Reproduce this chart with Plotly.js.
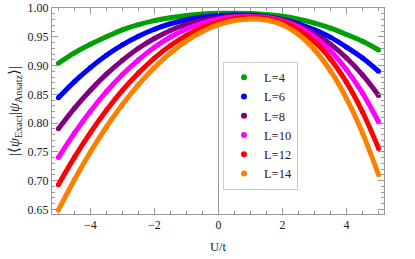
<!DOCTYPE html>
<html><head><meta charset="utf-8">
<script src="https://cdn.plot.ly/plotly-3.0.1.min.js"></script>
<style>html,body{margin:0;padding:0;background:#fff}#chart{width:415px;height:259px}</style>
</head><body><div id="chart"></div>
<script>
const U = [-5,-4.5,-4,-3.5,-3,-2.5,-2,-1.5,-1,-0.5,0,0.5,1,1.5,2,2.5,3,3.5,4,4.5,5];
const labels = ["L=4","L=6","L=8","L=10","L=12","L=14"];
const colors = ["#00a000","#0000ff","#800080","#ff00ff","#ff0000","#ff8000"];
const L4  = [0.904,0.922,0.937,0.950,0.962,0.971,0.978,0.983,0.987,0.9895,0.9907,0.991,0.9905,0.9888,0.9855,0.9805,0.9737,0.965,0.954,0.942,0.927];
const L6  = [0.844,0.872,0.8965,0.918,0.936,0.951,0.963,0.9726,0.9796,0.9843,0.987,0.988,0.9875,0.985,0.980,0.9726,0.962,0.949,0.932,0.913,0.890];
const L8  = [0.790,0.8256,0.857,0.885,0.909,0.930,0.947,0.961,0.9714,0.979,0.9836,0.9857,0.9858,0.984,0.9787,0.9695,0.9558,0.937,0.913,0.8836,0.848];
const L10 = [0.740,0.7825,0.8207,0.8546,0.8844,0.910,0.9318,0.9496,0.9636,0.9739,0.9807,0.9842,0.985,0.9834,0.9777,0.9668,0.9494,0.9251,0.8928,0.852,0.802];
const L12 = [0.693,0.7404,0.7834,0.8222,0.8567,0.887,0.913,0.9348,0.9525,0.9661,0.9756,0.9812,0.983,0.9816,0.9754,0.9625,0.9415,0.9112,0.8708,0.8193,0.756];
const L14 = [0.649,0.7016,0.7497,0.7932,0.8322,0.8667,0.8966,0.922,0.9429,0.9592,0.971,0.9783,0.981,0.9792,0.9708,0.954,0.9275,0.8906,0.8425,0.7825,0.710];
const series = [L4,L6,L8,L10,L12,L14];
const xTickVals = [-4,-2,0,2,4];
const yTickVals = [0.65,0.70,0.75,0.80,0.85,0.90,0.95,1.00];

const traces = [];
series.forEach((ys,i)=>{
  traces.push({x:U,y:ys,type:'scatter',mode:'lines+markers',name:labels[i],legendgroup:labels[i],
    showlegend:false,line:{color:colors[i],width:5,shape:'spline',smoothing:1},
    marker:{color:colors[i],size:5},hoverinfo:'skip'});
});
series.forEach((ys,i)=>{
  traces.push({x:[null],y:[null],type:'scatter',mode:'markers',name:labels[i],legendgroup:labels[i],
    marker:{color:colors[i],size:6}});
});

const serif = "'Liberation Serif', 'Times New Roman', serif";
const layout = {
  width:415,height:259,
  margin:{l:52,r:31,t:8,b:45},
  paper_bgcolor:'#fff',plot_bgcolor:'#fff',
  font:{family:serif,size:12,color:'#222'},
  showlegend:true,
  legend:{x:0.515,xanchor:'left',y:0.74,yanchor:'top',bgcolor:'#fff',bordercolor:'#ccc',borderwidth:1,
    font:{family:serif,size:12.5,color:'#222'},itemwidth:30,tracegroupgap:0},
  xaxis:{range:[-5.2,5.17],tickvals:xTickVals,ticktext:xTickVals.map(v=>v<0?'\u2212'+Math.abs(v):String(v)),
    ticks:'inside',ticklen:6,tickcolor:'#999',showline:true,linecolor:'#999',linewidth:1,mirror:'allticks',
    showgrid:false,zeroline:true,zerolinecolor:'#999',zerolinewidth:1,
    minor:{dtick:0.5,ticks:'inside',ticklen:3,tickcolor:'#999',showgrid:false},
    title:{text:'U/t',font:{family:serif,size:12.5,color:'#222'},standoff:10}},
  yaxis:{range:[0.642,1.0],tickvals:yTickVals,tickformat:'.2f',
    ticks:'inside',ticklen:6,tickcolor:'#999',showline:true,linecolor:'#999',linewidth:1,mirror:'allticks',
    showgrid:false,zeroline:false,
    minor:{dtick:0.01,ticks:'inside',ticklen:3,tickcolor:'#999',showgrid:false},
    title:{text:'|\u27E8<i>\u03C8</i><sub>Exact</sub>|<i>\u03C8</i><sub>Ansatz</sub>\u27E9|',font:{family:serif,size:14.5,color:'#222'},standoff:4}}
};
Plotly.newPlot('chart',traces,layout,{staticPlot:true,displayModeBar:false});
</script></body></html>
